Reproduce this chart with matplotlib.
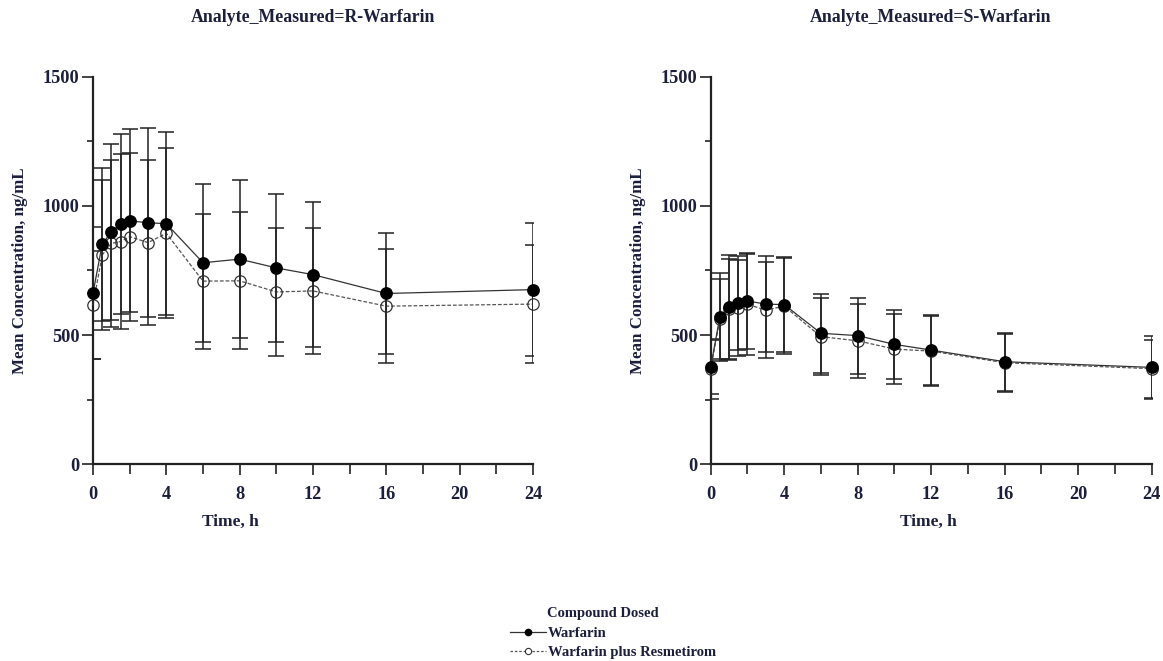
import matplotlib
matplotlib.use('Agg')
import matplotlib.pyplot as plt
from matplotlib.lines import Line2D
from matplotlib.ticker import MultipleLocator

plt.rcParams['font.family'] = ['Liberation Serif', 'DejaVu Serif']
plt.rcParams['font.weight'] = 'bold'

# nominal sampling times, h
times = [0, 0.5, 1, 1.5, 2, 3, 4, 6, 8, 10, 12, 16, 24]

# R-warfarin, mean and SD (ng/mL)
r_warf_mean = [662, 851, 900, 929, 942, 935, 931, 780, 794, 760, 734, 661, 676]
r_warf_sd = [255, 295, 340, 349, 354, 365, 354, 305, 306, 285, 280, 235, 257]
r_resm_mean = [616, 810, 855, 862, 881, 858, 894, 709, 710, 667, 671, 612, 620]
r_resm_sd = [209, 290, 323, 340, 325, 320, 329, 261, 265, 248, 244, 220, 229]

# S-warfarin, mean and SD (ng/mL)
s_warf_mean = [376, 571, 609, 624, 632, 620, 618, 507, 498, 464, 442, 397, 375]
s_warf_sd = [105, 170, 202, 183, 187, 185, 183, 152, 147, 134, 134, 112, 121]
s_resm_mean = [369, 563, 600, 604, 619, 597, 612, 494, 478, 446, 438, 393, 370]
s_resm_sd = [115, 155, 196, 185, 196, 187, 186, 150, 143, 137, 135, 112, 112]

W, H = 1163, 661
txt = '#1b1f3b'
ink = '#222222'

fig = plt.figure(figsize=(W / 100, H / 100), dpi=100)
ax_r = fig.add_axes([93 / W, 1 - 464.3 / H, 440 / W, 387.6 / H])
ax_s = fig.add_axes([710.7 / W, 1 - 464.3 / H, 441 / W, 387.6 / H])


def draw_panel(ax, w_mean, w_sd, wr_mean, wr_sd):
    # combination arm first so the warfarin-alone markers sit on top
    ax.errorbar(times, wr_mean, yerr=wr_sd, fmt='none', ecolor=ink,
                elinewidth=1.1, capsize=6, capthick=1.1, zorder=2)
    ax.plot(times, wr_mean, color='#555555', lw=0.9, ls=(0, (3, 1.5)),
            marker='o', ms=8.2, mfc='none', mec='#333333', mew=0.9,
            zorder=3, clip_on=False)
    ax.errorbar(times, w_mean, yerr=w_sd, fmt='none', ecolor=ink,
                elinewidth=1.1, capsize=6, capthick=1.1, zorder=4)
    ax.plot(times, w_mean, color='#333333', lw=0.9, marker='o', ms=8.2,
            mfc='black', mec='black', zorder=5, clip_on=False)

    ax.set_xlim(0, 24)
    ax.set_ylim(0, 1500)
    ax.xaxis.set_major_locator(MultipleLocator(4))
    ax.xaxis.set_minor_locator(MultipleLocator(2))
    ax.yaxis.set_major_locator(MultipleLocator(500))
    ax.yaxis.set_minor_locator(MultipleLocator(250))
    for side in ['top', 'right']:
        ax.spines[side].set_visible(False)
    for side in ['left', 'bottom']:
        ax.spines[side].set_linewidth(1.6)
        ax.spines[side].set_color(ink)
    ax.tick_params(axis='both', which='both', direction='out', color=ink,
                   width=1.2, labelcolor=txt, labelsize=13.2)
    ax.tick_params(axis='y', which='major', length=8, pad=1.5)
    ax.tick_params(axis='y', which='minor', length=4)
    ax.tick_params(axis='x', which='major', length=8, pad=7.5)
    ax.tick_params(axis='x', which='minor', length=7)


draw_panel(ax_r, r_warf_mean, r_warf_sd, r_resm_mean, r_resm_sd)
draw_panel(ax_s, s_warf_mean, s_warf_sd, s_resm_mean, s_resm_sd)

# panel headers and axis titles
fig.text(313 / W, 1 - 18 / H, 'Analyte_Measured=R-Warfarin', ha='center',
         va='center', fontsize=12.8, color=txt)
fig.text(931 / W, 1 - 18 / H, 'Analyte_Measured=S-Warfarin', ha='center',
         va='center', fontsize=12.8, color=txt)
for xc in [20, 638]:
    fig.text(xc / W, 1 - 270.5 / H, 'Mean Concentration, ng/mL', rotation=90,
             ha='center', va='center', fontsize=12.2, color=txt)
for xc in [230, 928]:
    fig.text(xc / W, 1 - 522 / H, 'Time, h', ha='center', va='center',
             fontsize=12.5, color=txt)

# legend
fig.text(547 / W, 1 - 613 / H, 'Compound Dosed', ha='left', va='center',
         fontsize=10.5, color=txt)
handles = [
    Line2D([], [], color='#333333', lw=0.9, marker='o', ms=4.5,
           mfc='black', mec='black'),
    Line2D([], [], color='#555555', lw=0.9, ls=(0, (2, 1.5)), marker='o',
           ms=4.5, mfc='white', mec='#333333', mew=0.8),
]
leg = fig.legend(handles, ['Warfarin', 'Warfarin plus Resmetirom'],
                 loc='upper left', bbox_to_anchor=(510 / W, 1 - 626.5 / H),
                 frameon=False, fontsize=10.5, handlelength=2.5,
                 handletextpad=0.1, borderpad=0, borderaxespad=0,
                 labelspacing=0.4)
for t in leg.get_texts():
    t.set_color(txt)

fig.savefig('out.png', dpi=100)
